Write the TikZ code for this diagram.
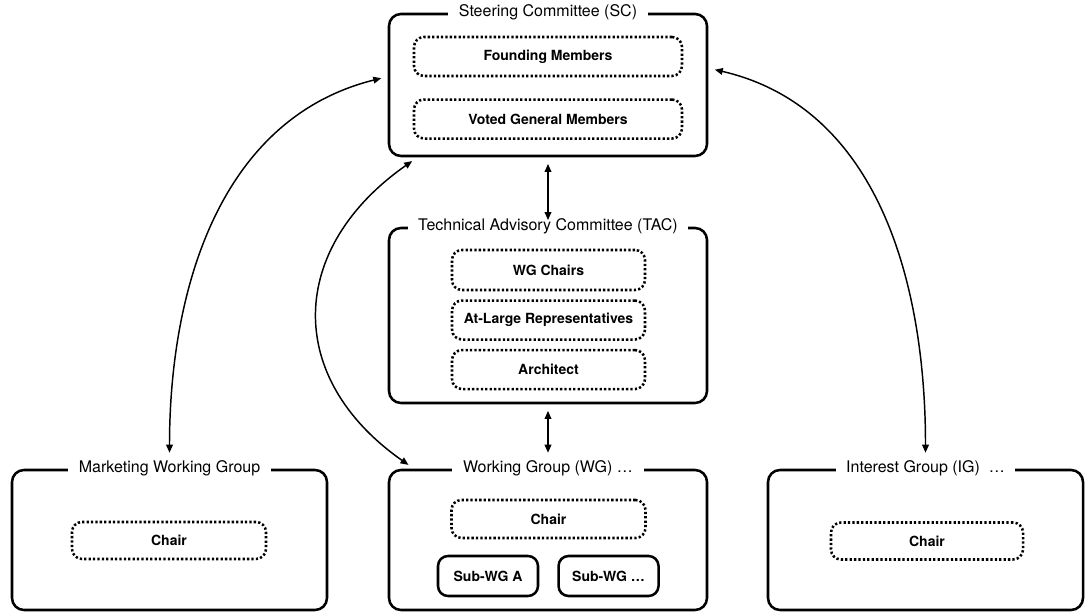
\documentclass[tikz,border=0pt]{standalone}
\usepackage{fontspec}
\setmainfont{TeX Gyre Heros}
\usetikzlibrary{positioning,arrows.meta}

\tikzset{
  group/.style={draw,line width=1.9pt,rounded corners=9pt},
  grouptitle/.style={fill=white,inner xsep=8pt,inner ysep=1pt,font=\fontsize{12}{14}\selectfont},
  member/.style={draw,line width=1.9pt,dash pattern=on 1.7pt off 1.6pt,rounded corners=7.5pt,
    font=\fontsize{10.5}{12}\selectfont\bfseries},
  subwg/.style={draw,line width=1.9pt,rounded corners=7.5pt,minimum width=75pt,minimum height=30pt,
    font=\fontsize{10.5}{12}\selectfont\bfseries},
  link/.style={{Triangle[length=6pt,width=5pt]}-{Triangle[length=6pt,width=5pt]},line width=1.1pt,
    shorten <=5pt,shorten >=5pt}
}

\begin{document}
\begin{tikzpicture}[x=0.75pt,y=0.75pt]
\useasboundingbox (0,0) rectangle (1087,613);
% members sit inside their committee
% titles sit on the top border of each box

\node[group,minimum width=238.5pt,minimum height=106.5pt] (sc) at (548,528) {};
\node[grouptitle] (sct) at (sc.north) {Steering Committee (SC)};
\node[member,minimum width=201pt,minimum height=29.25pt] (found) at (548,556.5) {Founding Members};
\node[member,minimum width=201pt,minimum height=29.25pt,below=15.75pt of found] (voted) {Voted General Members};

\node[group,minimum width=238.5pt,minimum height=131.25pt] (tac) at (548,297.5) {};
\node[grouptitle] (tact) at (tac.north) {Technical Advisory Committee (TAC)};
\node[member,minimum width=144.75pt,minimum height=30pt] (chairs) at (548.5,343) {WG Chairs};
\node[member,minimum width=144.75pt,minimum height=29.25pt,below=6pt of chairs] (atlarge) {At-Large Representatives};
\node[member,minimum width=144.75pt,minimum height=29.25pt,below=6pt of atlarge] (arch) {Architect};

\node[group,minimum width=236.25pt,minimum height=105pt] (mwg) at (169.5,73) {};
\node[grouptitle] (mwgt) at (mwg.north) {Marketing Working Group};
\node[member,minimum width=145.5pt,minimum height=27.75pt] (mchair) at (169,72.5) {Chair};

\node[group,minimum width=238.5pt,minimum height=105pt] (wg) at (548,73) {};
\node[grouptitle] (wgt) at (wg.north) {Working Group (WG) …};
\node[member,minimum width=145.5pt,minimum height=28.5pt] (wchair) at (548.5,94) {Chair};
\node[subwg] (suba) at (488,37) {Sub-WG A};
\node[subwg,right=13.5pt of suba] (subn) {Sub-WG …};

\node[group,minimum width=236.25pt,minimum height=105pt] (ig) at (925.5,73) {};
\node[grouptitle] (igt) at (ig.north) {Interest Group (IG)~ …};
\node[member,minimum width=144pt,minimum height=27.75pt] (ichair) at (927,72) {Chair};

\draw[link] (sc.south) -- (tac.north);
\draw[link] (tac.south) -- (wgt.north);
\draw[link] (mwgt.north) to[out=90,in=194] (sc.177);
\draw[link] (wg.152) to[out=145,in=215,looseness=1.3] (sc.209);
\draw[link] (igt.north) to[out=90,in=-13] (sc.6);
\end{tikzpicture}
\end{document}
